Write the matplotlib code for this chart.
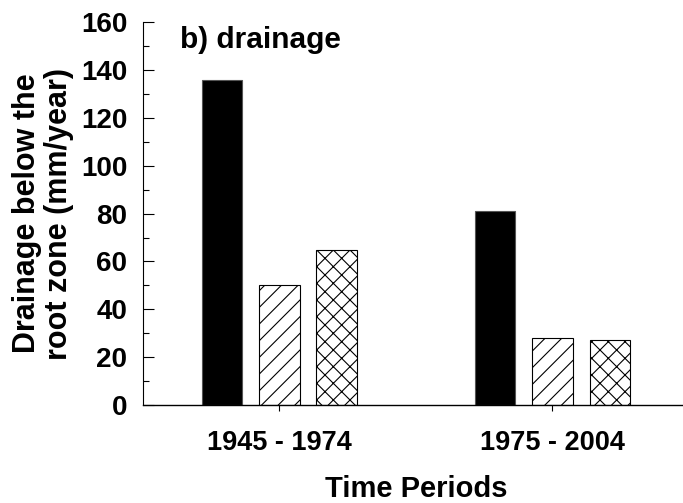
import matplotlib
matplotlib.use("Agg")
import matplotlib.pyplot as plt
import numpy as np

plt.rcParams['font.family'] = ['Liberation Sans', 'DejaVu Sans']
plt.rcParams['font.weight'] = 'bold'
plt.rcParams['hatch.linewidth'] = 0.8

periods = ["1945 - 1974", "1975 - 2004"]
series_solid = [136, 81]
series_hatch = [50, 28]
series_cross = [65, 27]
yticks = [0, 20, 40, 60, 80, 100, 120, 140, 160]

fig = plt.figure(figsize=(6.83, 5.03), dpi=100)
ax = fig.add_axes([0.2089, 0.1948, 0.7999, 0.7609])

x = np.arange(len(periods))
w = 0.1485
off = 0.2103
ax.bar(x - off, series_solid, w, color='black', edgecolor='#555555', linewidth=0.8)
ax.bar(x, series_hatch, w, color='white', edgecolor='black', hatch='//', linewidth=0.8)
ax.bar(x + off, series_cross, w, color='white', edgecolor='black', hatch='xx', linewidth=0.8)

ax.set_xlim(-0.5, 1.5)
ax.set_ylim(0, 160)
ax.set_yticks(yticks)
ax.set_yticks(np.arange(10, 160, 20), minor=True)
ax.set_xticks(x)
ax.set_xticklabels(periods, fontsize=19.5, fontweight='bold')
ax.tick_params(axis='y', which='major', direction='in', length=8, width=0.8, labelsize=20, pad=11)
ax.tick_params(axis='y', which='minor', direction='in', length=4, width=0.8)
ax.tick_params(axis='x', which='major', direction='out', length=4, width=0.8, pad=14)
for t in ax.get_yticklabels():
    t.set_fontweight('bold')

ax.spines['top'].set_visible(False)
ax.spines['right'].set_visible(False)
ax.spines['left'].set_linewidth(0.8)
ax.spines['bottom'].set_linewidth(1.0)

ax.set_ylabel("Drainage below the\nroot zone (mm/year)", fontsize=22, fontweight='bold',
              labelpad=5, linespacing=1.1)
ax.set_xlabel("Time Periods", fontsize=21, fontweight='bold', labelpad=14)
ax.text(0.068, 0.99, "b) drainage", transform=ax.transAxes, fontsize=21.5,
        fontweight='bold', ha='left', va='top')

fig.savefig("out.png", dpi=100)
